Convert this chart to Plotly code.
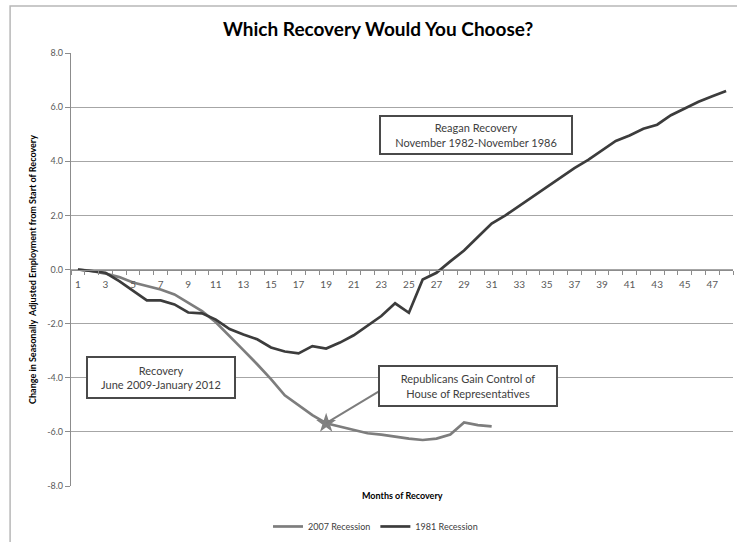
import plotly.graph_objects as go

months = [1, 2, 3, 4, 5, 6, 7, 8, 9, 10, 11, 12, 13, 14, 15, 16,
          17, 18, 19, 20, 21, 22, 23, 24, 25, 26, 27, 28, 29, 30, 31, 32,
          33, 34, 35, 36, 37, 38, 39, 40, 41, 42, 43, 44, 45, 46, 47, 48]

rec2007 = [0.0, -0.05, -0.15, -0.28, -0.48, -0.6, -0.74, -0.92, -1.23, -1.54,
           -1.95, -2.45, -2.98, -3.5, -4.05, -4.65, -5.0, -5.38, -5.68, -5.8,
           -5.92, -6.05, -6.1, -6.18, -6.25, -6.3, -6.25, -6.1, -5.65, -5.75,
           -5.8]

rec1981 = [0.0, -0.05, -0.12, -0.43, -0.8, -1.14, -1.14, -1.29, -1.59, -1.62,
           -1.85, -2.2, -2.4, -2.58, -2.88, -3.03, -3.1, -2.83, -2.92, -2.7,
           -2.43, -2.09, -1.72, -1.25, -1.6, -0.37, -0.12, 0.3, 0.7, 1.2,
           1.7, 2.0, 2.35, 2.7, 3.05, 3.4, 3.75, 4.05, 4.4, 4.75,
           4.95, 5.2, 5.35, 5.7, 5.95, 6.2, 6.4, 6.6]

y_ticks = [-8.0, -6.0, -4.0, -2.0, 0.0, 2.0, 4.0, 6.0, 8.0]
x_labels = [1, 3, 5, 7, 9, 11, 13, 15, 17, 19, 21, 23, 25, 27, 29, 31,
            33, 35, 37, 39, 41, 43, 45, 47]
x_bounds = [m - 0.5 for m in months] + [months[-1] + 0.5]

star_month = 19

FONT = "Lato, Carlito, 'Open Sans', sans-serif"
TXT = "#404040"

fig = go.Figure()
fig.add_trace(go.Scatter(x=months[:len(rec2007)], y=rec2007, mode="lines",
                         name="2007 Recession",
                         line=dict(color="#7d7d7d", width=2.7)))
fig.add_trace(go.Scatter(x=months, y=rec1981, mode="lines",
                         name="1981 Recession",
                         line=dict(color="#3c3c3c", width=2.7)))
fig.add_trace(go.Scatter(x=[star_month], y=[rec2007[star_month - 1]],
                         mode="markers", showlegend=False,
                         marker=dict(symbol="star", size=15, color="#808080",
                                     line=dict(width=0))))

box = dict(font=dict(family=FONT, size=11, color=TXT), showarrow=False,
           bgcolor="white", bordercolor="#4a4a4a", borderwidth=2, borderpad=4)

# connector from the star to the callout box
fig.add_annotation(x=star_month, y=rec2007[star_month - 1], xref="x", yref="y",
                   ax=58, ay=-35, text="", showarrow=True, arrowhead=0,
                   arrowwidth=2, arrowcolor="#7d7d7d", standoff=0)

fig.add_annotation(x=29.9, y=4.98, xref="x", yref="y",
                   text="Reagan Recovery<br>November 1982-November 1986",
                   width=182, height=28, **box)
fig.add_annotation(x=7.0, y=-3.99, xref="x", yref="y",
                   text="Recovery<br>June 2009-January 2012",
                   width=138, height=31, **box)
fig.add_annotation(x=29.25, y=-4.3, xref="x", yref="y",
                   text="Republicans Gain Control of<br>House of Representatives",
                   width=168, height=30, **box)

fig.add_annotation(x=0.5, y=-0.021, xref="paper", yref="paper", yanchor="middle",
                   text="<b>Months of Recovery</b>", showarrow=False,
                   font=dict(family=FONT, size=9, color="#000000"))

# outer chart frame
fig.add_shape(type="rect", xref="paper", yref="paper",
              x0=-0.092, y0=-0.2, x1=1.2, y1=1.1085,
              line=dict(color="#b8b8b8", width=1.5), layer="below")

fig.update_layout(
    width=737, height=542,
    margin=dict(l=71, r=4, t=53, b=56, autoexpand=False),
    paper_bgcolor="white", plot_bgcolor="white",
    title=dict(text="<b>Which Recovery Would You Choose?</b>",
               x=0.513, xanchor="center", y=0.945, yanchor="middle",
               font=dict(family=FONT, size=19, color="#000000")),
    font=dict(family=FONT, color="#595959"),
    showlegend=True,
    legend=dict(orientation="h", x=0.46, xanchor="center", y=-0.060,
                yanchor="top", font=dict(family=FONT, size=9, color="#404040"),
                itemwidth=30, tracegroupgap=0),
    xaxis=dict(range=[0.5, 48.5], anchor="free", position=0.5, automargin=False,
               tickmode="array", tickvals=x_labels, ticktext=[str(v) for v in x_labels],
               ticks="", showgrid=False, zeroline=False, ticklabelstandoff=5,
               showline=True, linecolor="#8c8c8c", linewidth=1.3,
               tickfont=dict(family=FONT, size=10, color="#595959"),
               minor=dict(tickmode="array", tickvals=x_bounds, ticks="outside",
                          ticklen=4, tickcolor="#8c8c8c", showgrid=False)),
    yaxis=dict(range=[-8, 8], tickmode="array", tickvals=y_ticks,
               ticktext=[f"{v:.1f}" for v in y_ticks], automargin=False,
               showgrid=True, gridcolor="#a6a6a6",
               gridwidth=1.2, zeroline=False, showline=True,
               linecolor="#8c8c8c", linewidth=1.3, ticks="outside",
               ticklen=5, tickcolor="#8c8c8c",
               tickfont=dict(family=FONT, size=9, color="#595959"),
               title=dict(text="<b>Change in Seasonally  Adjusted Employment from Start of Recovery</b>",
                          font=dict(family=FONT, size=9, color="#000000"),
                          standoff=8)),
)

fig.write_html("out.html")
